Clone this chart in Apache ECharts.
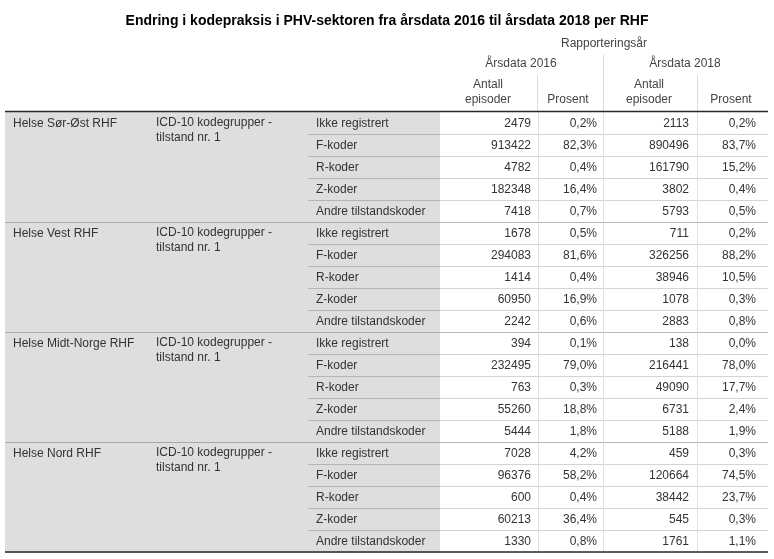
<!DOCTYPE html>
<html>
<head>
<meta charset="utf-8">
<script src="https://cdn.jsdelivr.net/npm/echarts@6/dist/echarts.min.js"></script>
<style>html,body{margin:0;padding:0;background:#fff;}#c{width:774px;height:559px;}</style>
</head>
<body>
<div id="c"></div>
<script>
var titleText = 'Endring i kodepraksis i PHV-sektoren fra årsdata 2016 til årsdata 2018 per RHF';
var regions = ['Helse Sør-Øst RHF', 'Helse Vest RHF', 'Helse Midt-Norge RHF', 'Helse Nord RHF'];
var groupLabel = ['ICD-10 kodegrupper -', 'tilstand nr. 1'];
var codes = ['Ikke registrert', 'F-koder', 'R-koder', 'Z-koder', 'Andre tilstandskoder'];
var yearLabels = ['Årsdata 2016', 'Årsdata 2018'];
var counts2016 = [2479, 913422, 4782, 182348, 7418,
                  1678, 294083, 1414, 60950, 2242,
                  394, 232495, 763, 55260, 5444,
                  7028, 96376, 600, 60213, 1330];
var pct2016 = [0.2, 82.3, 0.4, 16.4, 0.7,
               0.5, 81.6, 0.4, 16.9, 0.6,
               0.1, 79.0, 0.3, 18.8, 1.8,
               4.2, 58.2, 0.4, 36.4, 0.8];
var counts2018 = [2113, 890496, 161790, 3802, 5793,
                  711, 326256, 38946, 1078, 2883,
                  138, 216441, 49090, 6731, 5188,
                  459, 120664, 38442, 545, 1761];
var pct2018 = [0.2, 83.7, 15.2, 0.4, 0.5,
               0.2, 88.2, 10.5, 0.3, 0.8,
               0.0, 78.0, 17.7, 2.4, 1.9,
               0.3, 74.5, 23.7, 0.3, 1.1];

var FONT = '"Liberation Sans", Arial, Helvetica, sans-serif';
var TXT = '#333333';
var HDR = '#444444';
var rowIdx = [];
for (var i = 0; i < counts2016.length; i++) rowIdx.push(String(i));

function fmtPct(v) { return v.toFixed(1).replace('.', ',') + '%'; }

// column layout (pixel positions along hidden x value axis)
var X_LEFT = 5, X_GRAY_END = 440, X_CODE = 308, X_RIGHT = 768;
var X_DIV = [538, 603, 697];
var X_TXT = [531, 597, 689, 756];

function txt(x, y, s, align, color) {
  return { type: 'text', style: { x: x, y: y, text: s, fill: color || TXT, font: '12px ' + FONT, textAlign: align || 'left', textVerticalAlign: 'middle' } };
}
function line(x1, y1, x2, y2, c, w) {
  return { type: 'line', shape: { x1: x1, y1: y1, x2: x2, y2: y2 }, style: { stroke: c, lineWidth: w || 1 } };
}

function renderRow(params, api) {
  var idx = api.value(0);
  var c = api.coord([0, idx]);
  var h = api.size([0, 1])[1];
  var yc = c[1];
  var ty = yc + 1;
  var top = Math.round(yc - h / 2) + 0.5;
  var xs = function (v) { return api.coord([v, idx])[0]; };
  var children = [];
  children.push({ type: 'rect', shape: { x: xs(X_LEFT), y: top - 0.5, width: xs(X_GRAY_END) - xs(X_LEFT), height: h + 1 }, style: { fill: '#dedede' } });
  var k = idx % 5;
  if (idx > 0) {
    if (k === 0) {
      children.push(line(xs(X_LEFT), top, xs(X_GRAY_END), top, '#a8a8a8'));
      children.push(line(xs(X_GRAY_END), top, xs(X_RIGHT), top, '#b8b8b8'));
    } else {
      children.push(line(xs(X_CODE), top, xs(X_GRAY_END), top, '#b4b4b4'));
      children.push(line(xs(X_GRAY_END), top, xs(X_RIGHT), top, '#d4d4d4'));
    }
  }
  for (var d = 0; d < X_DIV.length; d++) {
    var xv = Math.round(xs(X_DIV[d])) + 0.5;
    children.push(line(xv, top, xv, top + h, '#e0e0e0'));
  }
  children.push(txt(xs(316), ty, codes[k], 'left'));
  children.push(txt(xs(X_TXT[0]), ty, String(counts2016[idx]), 'right'));
  children.push(txt(xs(X_TXT[1]), ty, fmtPct(pct2016[idx]), 'right'));
  children.push(txt(xs(X_TXT[2]), ty, String(counts2018[idx]), 'right'));
  children.push(txt(xs(X_TXT[3]), ty, fmtPct(pct2018[idx]), 'right'));
  return { type: 'group', children: children };
}

function renderRegion(params, api) {
  var idx = api.value(0);
  var yc = api.coord([0, idx])[1] + 1;
  var r = api.value(1);
  var xs = function (v) { return api.coord([v, idx])[0]; };
  return { type: 'group', children: [
    txt(xs(13), yc, regions[r], 'left'),
    txt(xs(156), yc - 1, groupLabel[0], 'left'),
    txt(xs(156), yc + 14, groupLabel[1], 'left')
  ] };
}

var hdrStyle = function (x, y, s) {
  return { type: 'text', x: x, y: y, style: { text: s, fill: HDR, font: '12px ' + FONT, textAlign: 'center', textVerticalAlign: 'middle' } };
};

var chart = echarts.init(document.getElementById('c'), null, { renderer: 'canvas' });
chart.setOption({
  backgroundColor: '#ffffff',
  animation: false,
  title: {
    text: titleText, left: 'center', top: 9,
    textStyle: { fontFamily: FONT, fontSize: 14, fontWeight: 'bold', color: '#000000' }
  },
  grid: { left: 0, right: 0, top: 111.5, height: 440 },
  xAxis: { type: 'value', min: 0, max: 774, show: false },
  yAxis: { type: 'category', data: rowIdx, inverse: true, show: false },
  graphic: [
    hdrStyle(604, 44, 'Rapporteringsår'),
    hdrStyle(521, 64, yearLabels[0]),
    hdrStyle(685, 64, yearLabels[1]),
    hdrStyle(488, 85, 'Antall'),
    hdrStyle(488, 100, 'episoder'),
    hdrStyle(568, 100, 'Prosent'),
    hdrStyle(649, 85, 'Antall'),
    hdrStyle(649, 100, 'episoder'),
    hdrStyle(731, 100, 'Prosent'),
    { type: 'line', shape: { x1: 603.5, y1: 55, x2: 603.5, y2: 111 }, style: { stroke: '#dcdcdc' } },
    { type: 'line', shape: { x1: 537.5, y1: 75, x2: 537.5, y2: 111 }, style: { stroke: '#dcdcdc' } },
    { type: 'line', shape: { x1: 697.5, y1: 75, x2: 697.5, y2: 111 }, style: { stroke: '#dcdcdc' } },
    { type: 'line', z: 100, shape: { x1: 5, y1: 111.5, x2: 768, y2: 111.5 }, style: { stroke: '#1e2a36', lineWidth: 1.5 } },
    { type: 'line', z: 100, shape: { x1: 5, y1: 552, x2: 768, y2: 552 }, style: { stroke: '#1e2a36', lineWidth: 1.5 } }
  ],
  series: [{
    type: 'custom',
    coordinateSystem: 'cartesian2d',
    renderItem: renderRow,
    encode: { y: 0 },
    data: rowIdx.map(function (v, i) { return [i]; }),
    silent: true,
    z: 2
  }, {
    type: 'custom',
    coordinateSystem: 'cartesian2d',
    renderItem: renderRegion,
    encode: { y: 0 },
    data: regions.map(function (name, r) { return [r * codes.length, r]; }),
    silent: true,
    z: 5
  }]
});
</script>
</body>
</html>
